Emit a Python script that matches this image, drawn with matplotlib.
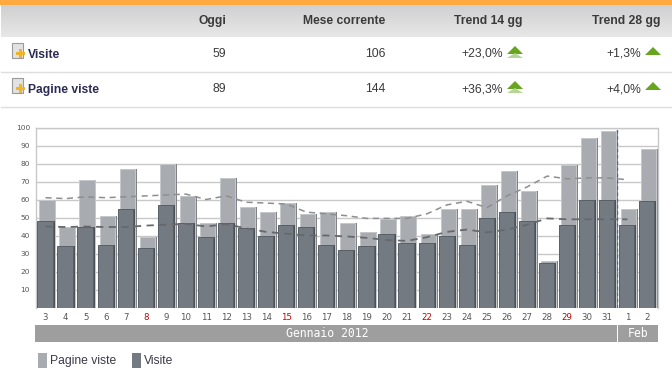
import numpy as np
import matplotlib
matplotlib.use("Agg")
import matplotlib.pyplot as plt
from matplotlib.patches import Polygon, Rectangle

W, H = 672, 373

days = ["3","4","5","6","7","8","9","10","11","12","13","14","15","16","17","18","19",
        "20","21","22","23","24","25","26","27","28","29","30","31","1","2"]
red_days = ["8","15","22","29"]
pagine = [60,45,71,51,77,39,80,62,47,72,56,53,58,52,53,47,42,49,51,41,55,55,68,76,65,26,79,94,98,55,88]
visite = [48,34,45,35,55,33,57,47,39,47,44,40,46,45,35,32,34,41,36,36,40,35,50,53,48,25,46,60,60,46,59]
trend_pagine = [61,60.5,61.5,61,61.5,62,62.5,63,60,62,58.5,58,57.5,53,52,51,49.5,49.5,49.5,52,57,59,55.5,62,67,73,71.5,72,72,71]
trend_visite = [45,44.7,45,44.7,44.7,45.5,46,46.5,45,46.3,44,42,41,40,40,39.5,38.7,37.5,37,39,42,43.3,41.7,43.3,46,49.5,49,49,49,49]

headers = ["Oggi","Mese corrente","Trend 14 gg","Trend 28 gg"]
row_names = ["Visite","Pagine viste"]
oggi = ["59","89"]
mese = ["106","144"]
trend14 = ["+23,0%","+36,3%"]
trend28 = ["+1,3%","+4,0%"]
yticks = [10,20,30,40,50,60,70,80,90,100]

plt.rcParams['font.family'] = ['Liberation Sans','DejaVu Sans']

fig = plt.figure(figsize=(W/100,H/100),dpi=100,facecolor="white")


def make_page_layer():
    bg = fig.add_axes([0,0,1,1])
    bg.set_xlim(0,W)
    bg.set_ylim(H,0)
    bg.axis("off")
    return bg


def draw_icon(a,y):
    a.add_patch(Rectangle((11.5,y),11,15,fc="#e2e2e2",ec="#9a9a9a",lw=0.8))
    a.add_patch(Rectangle((18.5,y+6),3.5,9,fc="#f0b428",ec="none"))
    a.add_patch(Rectangle((16,y+8.8),9,3.5,fc="#f0b428",ec="none"))


def draw_arrow(a,x,y,double):
    a.add_patch(Polygon([(x,y+8),(x+8,y),(x+16,y+8)],fc="#68a51e",ec="none"))
    if double:
        a.add_patch(Polygon([(x,y+12),(x+8,y+7),(x+16,y+12)],fc="#b5d596",ec="none"))


def draw_table(a):
    a.add_patch(Rectangle((0,0),W,5,fc="#ffa93f",ec="none"))
    grad = np.linspace(0,1,32).reshape(-1,1)
    cmap = matplotlib.colors.LinearSegmentedColormap.from_list("hdr",["#d0d0d0","#e7e7e7"])
    a.imshow(grad,extent=(1,W,37,5),cmap=cmap,aspect="auto",zorder=0)
    a.set_xlim(0,W)
    a.set_ylim(H,0)
    a.plot([1,W],[71.5,71.5],color="#dedede",lw=1)
    a.plot([1,W],[106.5,106.5],color="#dedede",lw=1)

    head_x = [226,385,522.5,660]
    for hx,h in zip(head_x,headers):
        a.text(hx,21,h,ha="right",va="center",fontsize=8.7,fontweight="bold",color="#3a3a3a")
    row_y = [54,89]
    for i,ry in enumerate(row_y):
        draw_icon(a,ry-11)
        a.text(28,ry+1,row_names[i],ha="left",va="center",fontsize=8.7,fontweight="bold",color="#2b2b55")
        a.text(226,ry,oggi[i],ha="right",va="center",fontsize=8.7,color="#3a3a3a")
        a.text(385,ry,mese[i],ha="right",va="center",fontsize=8.7,color="#3a3a3a")
        a.text(503,ry,trend14[i],ha="right",va="center",fontsize=8.7,color="#3a3a3a")
        a.text(641,ry,trend28[i],ha="right",va="center",fontsize=8.7,color="#3a3a3a")
        draw_arrow(a,507,ry-8,True)
        draw_arrow(a,645,ry-7,False)


def draw_bars(ax,x):
    unit = 622/31
    w = 15.2/unit
    # lighter series sits a bit behind and to the right
    back = x+1.4/unit
    front = x-0.6/unit
    ax.bar(back+1.8/unit,pagine,w,color="#7f8387",zorder=2)
    ax.bar(back,pagine,w,color="#a8acb0",edgecolor="#c6c9cb",linewidth=0.7,zorder=3)
    ax.bar(front+2/unit,visite,w,color="#4e5156",zorder=4)
    ax.bar(front,visite,w,color="#737a82",edgecolor="#596067",linewidth=0.7,zorder=5)


def draw_chart():
    ax = fig.add_axes([35.5/W,1-307.5/H,622/W,180/H])
    x = np.arange(len(days))
    ax.set_xlim(-0.5,len(days)-0.5)
    ax.set_ylim(0,100)
    ax.set_yticks(yticks)
    ax.set_xticks(x)
    ax.set_xticklabels(days,family="DejaVu Sans")
    ax.set_yticklabels([str(v) for v in yticks],family="DejaVu Sans")
    ax.tick_params(axis="x",length=0,labelsize=6.2,labelcolor="#555555",pad=4)
    ax.tick_params(axis="y",length=0,labelsize=5.3,labelcolor="#555555",pad=4)
    for lab in ax.get_xticklabels():
        if lab.get_text() in red_days:
            lab.set_color("#c00000")
    ax.grid(axis="y",color="#c8c8c8",lw=1)
    ax.set_axisbelow(True)
    ax.spines["bottom"].set_visible(False)
    for s in ["left","right","top"]:
        ax.spines[s].set_color("#c8c8c8")
        ax.spines[s].set_linewidth(1)

    draw_bars(ax,x)

    tx = x[:len(trend_pagine)]
    ax.plot(tx,trend_pagine,color="#8e8e8e",lw=1.1,ls=(0,(4,3)),zorder=6)
    ax.plot(tx,trend_visite,color="#65696e",lw=1.3,ls=(0,(4,3)),zorder=6)
    # month boundary
    ax.axvline(28.5,color="#4a5fa8",lw=1,ls=(0,(2.5,2)),zorder=2.5)
    return ax


def draw_footer(a):
    a.add_patch(Rectangle((35,325),582,17,fc="#9e9e9e",ec="none"))
    a.add_patch(Rectangle((618,325),40,17,fc="#9e9e9e",ec="none"))
    a.text(327,333.5,"Gennaio 2012",ha="center",va="center",fontsize=8.3,family="DejaVu Sans Mono",color="white")
    a.text(638,333.5,"Feb",ha="center",va="center",fontsize=8.3,family="DejaVu Sans Mono",color="white")
    a.add_patch(Rectangle((38,353),9,15,fc="#a8acb0",ec="none"))
    a.add_patch(Rectangle((132,353),9,15,fc="#737a82",ec="none"))
    a.text(50,361,"Pagine viste",ha="left",va="center",fontsize=8.7,color="#3a3a4a")
    a.text(144,361,"Visite",ha="left",va="center",fontsize=8.7,color="#3a3a4a")


def main():
    page = make_page_layer()
    draw_table(page)
    draw_chart()
    draw_footer(page)
    fig.savefig("out.png",dpi=100)


if __name__ == "__main__":
    main()
